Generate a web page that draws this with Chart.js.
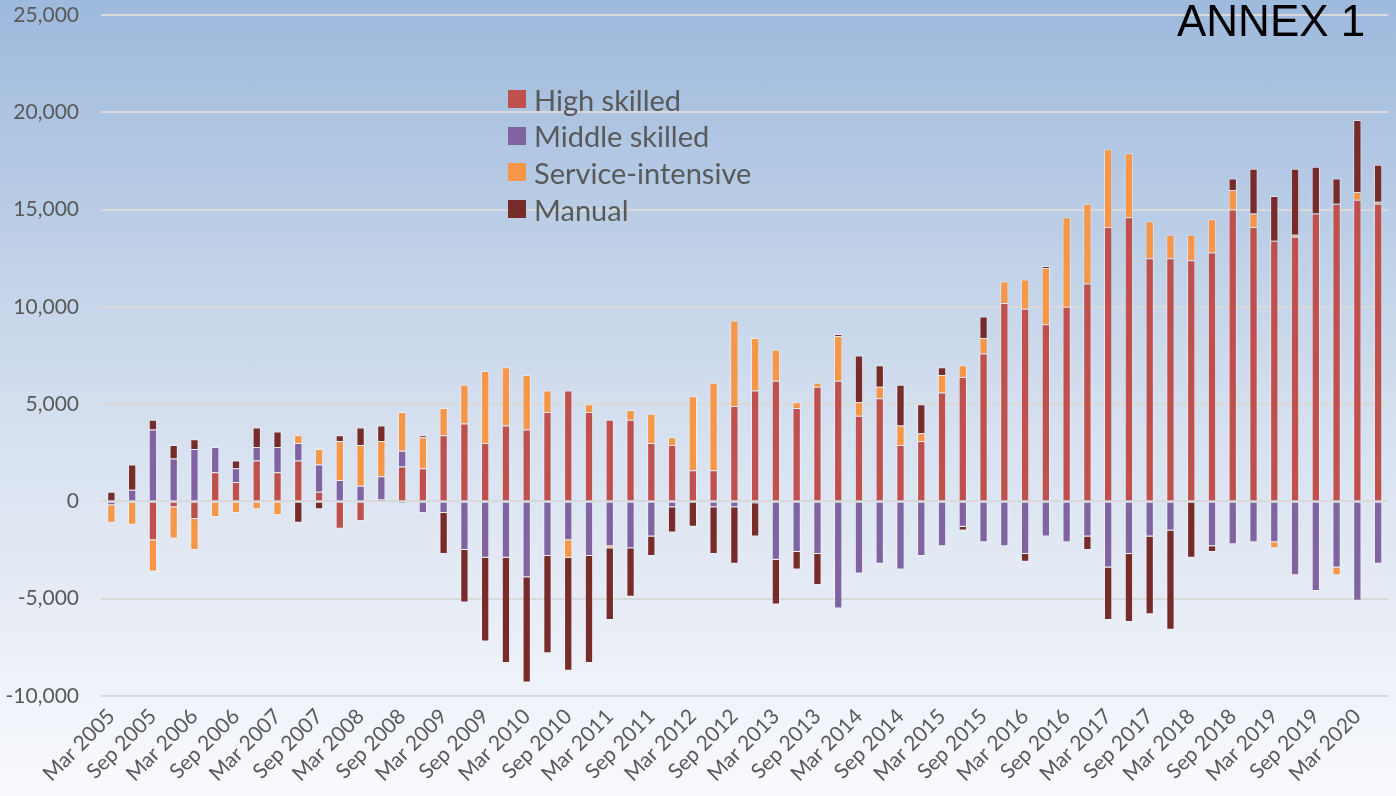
<!DOCTYPE html>
<html>
<head>
<meta charset="utf-8">
<script src="https://cdn.jsdelivr.net/npm/chart.js@4/dist/chart.umd.min.js"></script>
<style>
  html, body { margin: 0; padding: 0; }
  body {
    width: 1396px; height: 796px; overflow: hidden; position: relative;
    background: linear-gradient(to bottom, #9db9dc 0%, #d3deee 50%, #f9fafd 100%);
    font-family: Lato, sans-serif;
  }
  #chart { position: absolute; left: 0; top: 0; }
  #annex {
    position: absolute; left: 1177px; top: -1px;
    font: 44px/44px "Liberation Sans", Arial, sans-serif; color: #000;
  }
  #legend { position: absolute; left: 508px; top: 81px; }
  .item { height: 36.6px; display: flex; align-items: center; font-size: 29px; color: #595959; }
  .swatch { width: 18px; height: 18px; margin-right: 8px; }
</style>
</head>
<body>
<canvas id="chart" width="1396" height="796"></canvas>
<div id="annex">ANNEX 1</div>
<div id="legend"></div>
<script>
const quarters = [
  "Mar 2005", "Jun 2005", "Sep 2005", "Dec 2005", "Mar 2006", "Jun 2006", "Sep 2006", "Dec 2006",
  "Mar 2007", "Jun 2007", "Sep 2007", "Dec 2007", "Mar 2008", "Jun 2008", "Sep 2008", "Dec 2008",
  "Mar 2009", "Jun 2009", "Sep 2009", "Dec 2009", "Mar 2010", "Jun 2010", "Sep 2010", "Dec 2010",
  "Mar 2011", "Jun 2011", "Sep 2011", "Dec 2011", "Mar 2012", "Jun 2012", "Sep 2012", "Dec 2012",
  "Mar 2013", "Jun 2013", "Sep 2013", "Dec 2013", "Mar 2014", "Jun 2014", "Sep 2014", "Dec 2014",
  "Mar 2015", "Jun 2015", "Sep 2015", "Dec 2015", "Mar 2016", "Jun 2016", "Sep 2016", "Dec 2016",
  "Mar 2017", "Jun 2017", "Sep 2017", "Dec 2017", "Mar 2018", "Jun 2018", "Sep 2018", "Dec 2018",
  "Mar 2019", "Jun 2019", "Sep 2019", "Dec 2019", "Mar 2020", "Jun 2020"
];

const highSkilled = [
  0, 0, -2000, -300, -900, 1500, 1000, 2100, 1500, 2100, 500, -1400,
  -1000, 100, 1800, 1700, 3400, 4000, 3000, 3900, 3700, 4600, 5700, 4600, 4200, 4200, 3000, 2900,
  1600, 1600, 4900, 5700, 6200, 4800, 5900, 6200, 4400, 5300, 2900, 3100, 5600, 6400, 7600, 10200,
  9900, 9100, 10000, 11200, 14100, 14600, 12500, 12500, 12400, 12800, 15000, 14100, 13400, 13600, 14800, 15300, 15500, 15300
];
const middleSkilled = [
  -200, 600, 3700, 2200, 2700, 1300, 700, 700, 1300, 900, 1400, 1100,
  800, 1200, 800, -600, -600, -2500, -2900, -2900, -3900, -2800, -2000, -2800, -2300, -2400, -1800, -300,
  0, -300, -300, -100, -3000, -2600, -2700, -5500, -3700, -3200, -3500, -2800, -2300, -1300, -2100, -2300,
  -2700, -1800, -2100, -1800, -3400, -2700, -1800, -1500, 0, -2300, -2200, -2100, -2100, -3800, -4600, -3400, -5100, -3200
];
const serviceIntensive = [
  -900, -1200, -1600, -1600, -1600, -800, -600, -400, -700, 400, 800, 2000,
  2100, 1800, 2000, 1600, 1400, 2000, 3700, 3000, 2800, 1100, -900, 400, -100, 500, 1500, 400,
  3800, 4500, 4400, 2700, 1600, 300, 200, 2300, 700, 600, 1000, 400, 900, 600, 800, 1100,
  1500, 2900, 4600, 4100, 4000, 3300, 1900, 1200, 1300, 1700, 1000, 700, -300, 100, 0, -400, 400, 100
];
const manual = [
  500, 1300, 500, 700, 500, 0, 400, 1000, 800, -1100, -400, 300,
  900, 800, -100, 100, -2100, -2700, -4300, -5400, -5400, -5000, -5800, -5500, -3700, -2500, -1000, -1300,
  -1300, -2400, -2900, -1700, -2300, -900, -1600, 100, 2400, 1100, 2100, 1500, 400, -200, 1100, 0,
  -400, 100, 0, -700, -2700, -3500, -4000, -5100, -2900, -300, 600, 2300, 2300, 3400, 2400, 1300, 3700, 1900
];

const seriesNames = ["High skilled", "Middle skilled", "Service-intensive", "Manual"];
const seriesColors = ["#c0504d", "#8064a2", "#f79646", "#772c2a"];
const seriesData = [highSkilled, middleSkilled, serviceIntensive, manual];

const tickColor = "#595959";
const tickFont = { family: "Lato", size: 21 };

const datasets = seriesNames.map((name, i) => ({
  label: name,
  data: seriesData[i],
  backgroundColor: seriesColors[i],
  borderColor: "rgba(255,255,255,0.45)",
  borderWidth: 1,
  barPercentage: 0.4,
  categoryPercentage: 1
}));

new Chart(document.getElementById("chart"), {
  type: "bar",
  data: { labels: quarters, datasets },
  options: {
    responsive: false,
    animation: false,
    layout: { padding: { top: 15, right: 7, left: 0, bottom: 0 } },
    plugins: { legend: { display: false }, tooltip: { enabled: false } },
    scales: {
      x: {
        stacked: true,
        grid: { display: false },
        border: { display: false },
        ticks: {
          autoSkip: false, maxRotation: 45, minRotation: 45,
          color: tickColor, font: tickFont, padding: 0,
          callback: (value, index) => index % 2 === 0 ? quarters[index] : ""
        },
        afterFit: scale => { scale.height = 100; }
      },
      y: {
        stacked: true,
        min: -10000, max: 25000,
        ticks: {
          stepSize: 5000, color: tickColor, font: tickFont, padding: 22,
          callback: value => value.toLocaleString("en-US")
        },
        grid: { color: "#d9d9d9", lineWidth: 2, drawTicks: false },
        border: { display: false },
        afterFit: scale => {
          scale.width = 101;
          scale.paddingTop = 0;
          scale.paddingBottom = 0;
        }
      }
    }
  }
});

const legend = document.getElementById("legend");
seriesNames.forEach((name, i) => {
  const row = document.createElement("div");
  row.className = "item";
  row.innerHTML = `<span class="swatch" style="background:${seriesColors[i]}"></span><span>${name}</span>`;
  legend.appendChild(row);
});
</script>
</body>
</html>
